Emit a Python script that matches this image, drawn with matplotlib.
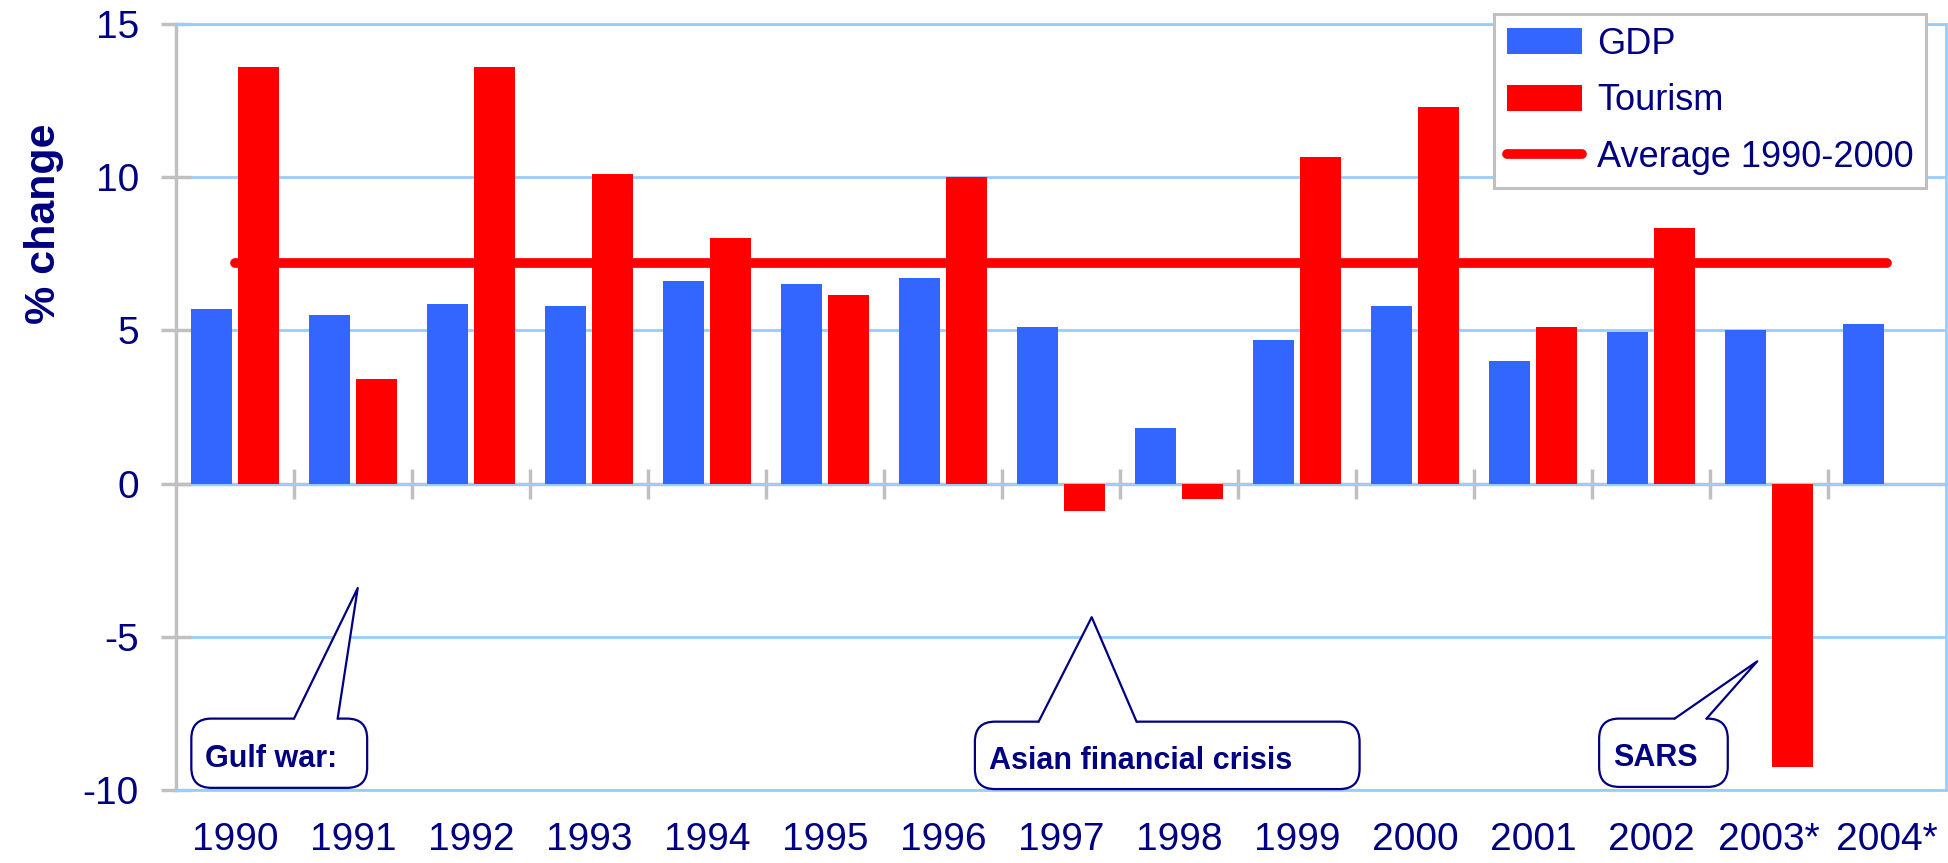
import matplotlib
matplotlib.use('Agg')
import matplotlib.pyplot as plt
from matplotlib import font_manager
from matplotlib.patches import FancyBboxPatch, Polygon
import numpy as np

years = ['1990', '1991', '1992', '1993', '1994', '1995', '1996', '1997',
         '1998', '1999', '2000', '2001', '2002', '2003*', '2004*']
gdp = [5.7, 5.5, 5.85, 5.8, 6.6, 6.5, 6.7, 5.1, 1.8, 4.7, 5.8, 4.0, 4.95,
       5.0, 5.2]
tourism = [13.6, 3.4, 13.6, 10.1, 8.0, 6.15, 10.0, -0.9, -0.5, 10.65, 12.3,
           5.1, 8.35, -9.25, np.nan]
average = 7.2
yticks = [-10, -5, 0, 5, 10, 15]

# callouts: text, box (x0, x1, ybottom, ytop), pointer base (x1, x2), tip
callouts = [
    ('Gulf war:', (-0.37, 1.12, -9.93, -7.67), (0.5, 0.87), (1.04, -3.41)),
    ('Asian financial crisis', (6.27, 9.53, -9.97, -7.77), (6.81, 7.64),
     (7.26, -4.36)),
    ('SARS', (11.56, 12.65, -9.9, -7.67), (12.2, 12.47), (12.9, -5.8)),
]

blue = '#3366FF'
red = '#FF0000'
navy = '#000080'
grey = '#C0C0C0'
lblue = '#99CCFF'

# narrow Arial-like face if there is one, else plain Liberation Sans
names = {f.name for f in font_manager.fontManager.ttflist}
if 'Liberation Sans Narrow' in names:
    plt.rcParams['font.family'] = ['Liberation Sans Narrow', 'DejaVu Sans']
    tick_size, leg_size = 30, 29
else:
    plt.rcParams['font.family'] = ['Liberation Sans', 'DejaVu Sans']
    tick_size, leg_size = 28, 26
plt.rcParams['axes.unicode_minus'] = False

fig = plt.figure(figsize=(19.49, 8.63), dpi=100)
ax = fig.add_axes([0.0903, 0.0846, 0.9082, 0.8876])

x = np.arange(len(years))
w = 0.35
ax.bar(x - 0.2, gdp, w, color=blue, label='GDP', zorder=2)
ax.bar(x + 0.2, tourism, w, color=red, label='Tourism', zorder=2)
ax.plot([x[0], x[-1]], [average, average], color=red, lw=7,
        solid_capstyle='round', label='Average 1990-2000', zorder=3)

ax.set_xlim(-0.5, len(years) - 0.5)
ax.set_ylim(-10, 15)
ax.set_yticks(yticks)
ax.set_axisbelow(True)
ax.yaxis.grid(True, color=lblue, lw=2)

for s in ('top', 'right', 'bottom'):
    ax.spines[s].set_color(lblue)
    ax.spines[s].set_linewidth(2)
ax.spines['left'].set_color(grey)
ax.spines['left'].set_linewidth(2.5)

ax.tick_params(axis='y', direction='inout', length=21.6, width=2.5,
               color=grey, labelsize=tick_size, labelcolor=navy, pad=16)
ax.set_xticks(x, labels=years)
ax.tick_params(axis='x', length=0, labelsize=tick_size, labelcolor=navy,
               pad=23)

# zero axis with category-boundary ticks
zero = ax.secondary_xaxis(10 / 25)
zero.spines['bottom'].set_color(grey)
zero.spines['bottom'].set_linewidth(2.5)
zero.set_xticks(x[:-1] + 0.5, labels=[])
zero.tick_params(direction='inout', length=21.6, width=2.5, color=grey)

ax.set_ylabel('% change', fontsize=31, fontweight='bold', color=navy,
              family=['Liberation Sans', 'DejaVu Sans'])
ax.yaxis.set_label_coords(-0.063, 0.739)

handles, labels = ax.get_legend_handles_labels()
order = [labels.index(k) for k in ('GDP', 'Tourism', 'Average 1990-2000')]
leg = ax.legend([handles[i] for i in order], [labels[i] for i in order],
                loc='upper right', bbox_to_anchor=(0.9887, 1.013),
                borderaxespad=0, fontsize=leg_size, labelcolor=navy,
                frameon=True, fancybox=False, edgecolor=grey, framealpha=1,
                handlelength=2.1, handleheight=0.75, handletextpad=0.4,
                labelspacing=0.6, borderpad=0.35)
leg.get_frame().set_linewidth(2.2)

# speech-bubble callouts
p0, p1 = ax.transData.transform([(0, 0), (1, 1)])
sx, sy = p1 - p0
eps = 3 / sy
for text, (bx0, bx1, by0, by1), (b1, b2), (tx, ty) in callouts:
    box = FancyBboxPatch((bx0, by0), bx1 - bx0, by1 - by0,
                         boxstyle='round,pad=0,rounding_size=0.17',
                         mutation_aspect=sx / sy, fc='white', ec=navy,
                         lw=1.6, zorder=5, clip_on=False)
    ax.add_patch(box)
    ax.add_patch(Polygon([(b1, by1 - eps), (b1, by1), (tx, ty), (b2, by1),
                          (b2, by1 - eps)], fc='white', ec='none', zorder=6,
                         clip_on=False))
    ax.plot([b1, tx, b2], [by1, ty, by1], color=navy, lw=1.6, zorder=7,
            clip_on=False)
    ax.text(bx0 + 14 / sx, by0 + (by1 - by0) * 0.3, text, fontsize=22,
            fontweight='bold', color=navy, va='baseline', ha='left',
            family=['Liberation Sans', 'DejaVu Sans'], zorder=8)

fig.savefig('out.png', dpi=100)
